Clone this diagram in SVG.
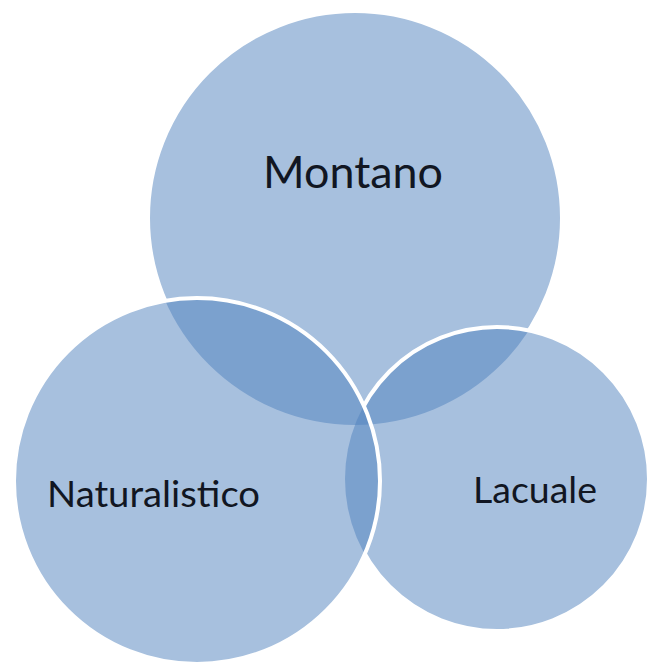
<svg xmlns="http://www.w3.org/2000/svg" width="648" height="664" viewBox="0 0 648 664">
  <style>
    .fill { fill: #4F81BD; fill-opacity: 0.5; stroke: none; }
    .edge { fill: none; stroke: #FFFFFF; stroke-width: 4; }
    .label { font-family: Lato, "Open Sans", "Liberation Sans", sans-serif; fill: #111622; }
  </style>
  <defs>
    <mask id="m-top" maskUnits="userSpaceOnUse" x="0" y="0" width="648" height="664">
      <rect x="0" y="0" width="648" height="664" fill="#fff"/>
      <circle cx="197" cy="481" r="183" fill="#000"/>
      <circle cx="497" cy="479" r="152" fill="#000"/>
    </mask>
    <mask id="m-right" maskUnits="userSpaceOnUse" x="0" y="0" width="648" height="664">
      <rect x="0" y="0" width="648" height="664" fill="#fff"/>
      <circle cx="197" cy="481" r="183" fill="#000"/>
    </mask>
  </defs>
  <rect x="0" y="0" width="648" height="664" fill="#FFFFFF"/>

  <g id="montano">
    <circle class="fill" cx="355" cy="218" r="207"/>
    <circle class="edge" cx="355" cy="218" r="207" mask="url(#m-top)"/>
    <text class="label" x="263" y="188" font-size="44" textLength="180" lengthAdjust="spacingAndGlyphs">Montano</text>
  </g>

  <g id="lacuale">
    <circle class="fill" cx="497" cy="479" r="152"/>
    <circle class="edge" cx="497" cy="479" r="152" mask="url(#m-right)"/>
    <text class="label" x="473" y="503" font-size="37" textLength="124" lengthAdjust="spacingAndGlyphs">Lacuale</text>
  </g>

  <g id="naturalistico">
    <circle class="fill" cx="197" cy="481" r="183"/>
    <circle class="edge" cx="197" cy="481" r="183"/>
    <text class="label" x="47" y="507" font-size="37" textLength="213" lengthAdjust="spacingAndGlyphs">Naturalistico</text>
  </g>
</svg>
